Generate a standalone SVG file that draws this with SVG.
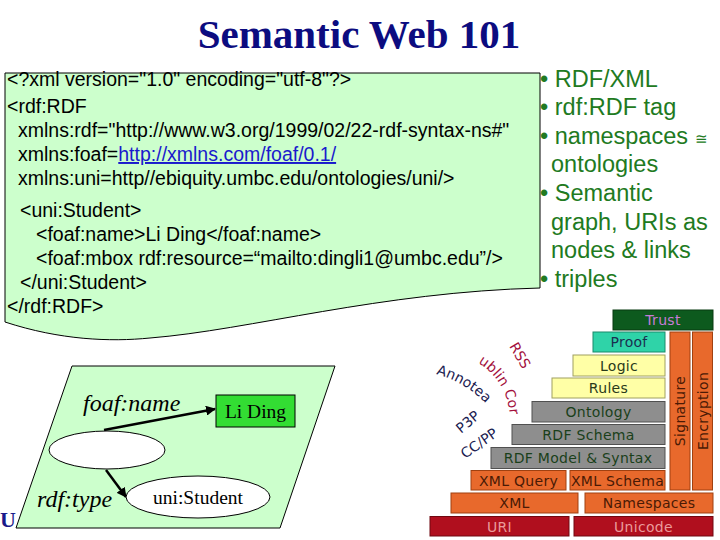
<svg xmlns="http://www.w3.org/2000/svg" width="720" height="540" viewBox="0 0 720 540">
<style>
.title{font-family:"Liberation Serif","Times New Roman",serif;font-weight:bold;font-size:41px;fill:#0c0c80}
.code{font-family:"Liberation Sans",Arial,sans-serif;font-size:19.5px;fill:#000}
.link{fill:#1a1acc;text-decoration:underline}
.bul{font-family:"Liberation Sans",Arial,sans-serif;font-size:23.5px;fill:#217a21}
.lay{font-family:"DejaVu Sans",Verdana,sans-serif;font-size:14px;letter-spacing:0.3px;text-anchor:middle}
.side{font-family:"DejaVu Sans",Verdana,sans-serif;font-size:14px}
.it{font-family:"Liberation Serif","Times New Roman",serif;font-style:italic;font-size:24px;fill:#000}
.rm{font-family:"Liberation Serif","Times New Roman",serif;font-size:19.5px;fill:#000;text-anchor:middle}
.node{stroke:#000;stroke-width:1}
.edge{stroke:#000;stroke-width:2.5;fill:none;marker-end:url(#ah)}
</style>
<defs>
<marker id="ah" viewBox="0 0 10 10" refX="9" refY="5" markerWidth="4" markerHeight="4" orient="auto" markerUnits="strokeWidth">
<path d="M0,0 L10,5 L0,10 Z" fill="#000"/>
</marker>
<path id="arcAnn" d="M436,374 A110,110 0 0 1 492,410"/>
<path id="arcDub" d="M478,363 A64,64 0 0 1 509,428"/>
</defs>
<rect width="720" height="540" fill="#fff"/>
<text class="title" x="359" y="48" text-anchor="middle">Semantic Web 101</text>

<g id="code-box">
<path d="M5,73 H540 V288 C380,292 250,330 150,338 C110,342 60,340 5,322 Z" fill="#ccffcc" stroke="#000" stroke-width="1"/>
<text class="code" x="7" y="86">&lt;?xml version="1.0" encoding="utf-8"?&gt;</text>
<text class="code" x="7" y="113">&lt;rdf:RDF</text>
<text class="code" x="18" y="137">xmlns:rdf="http://www.w3.org/1999/02/22-rdf-syntax-ns#"</text>
<text class="code" x="18" y="161">xmlns:foaf=<tspan class="link">http://xmlns.com/foaf/0.1/</tspan></text>
<text class="code" x="18" y="185">xmlns:uni=http//ebiquity.umbc.edu/ontologies/uni/&gt;</text>
<text class="code" x="20" y="217">&lt;uni:Student&gt;</text>
<text class="code" x="36" y="241">&lt;foaf:name&gt;Li Ding&lt;/foaf:name&gt;</text>
<text class="code" x="36" y="265">&lt;foaf:mbox rdf:resource=“mailto:dingli1@umbc.edu”/&gt;</text>
<text class="code" x="20" y="289">&lt;/uni:Student&gt;</text>
<text class="code" x="7" y="313">&lt;/rdf:RDF&gt;</text>
</g>

<g id="bullets">
<text class="bul" x="540" y="87">• RDF/XML</text>
<text class="bul" x="540" y="115">• rdf:RDF tag</text>
<text class="bul" x="540" y="144">• namespaces <tspan font-size="15">≅</tspan></text>
<text class="bul" x="551" y="172">ontologies</text>
<text class="bul" x="540" y="201">• Semantic</text>
<text class="bul" x="551" y="230">graph, URIs as</text>
<text class="bul" x="551" y="258">nodes &amp; links</text>
<text class="bul" x="540" y="287">• triples</text>
</g>

<text x="0" y="527" font-family="Liberation Serif,serif" font-weight="bold" font-size="22" fill="#1a1a8a">U</text>

<g id="graph-plane">
<path d="M72,366 H335 L280,528 H16 Z" fill="#ccffcc" stroke="#000" stroke-width="1"/>
</g>

<g id="connectors">
<path class="edge" d="M104,430 L215,409"/>
<path class="edge" d="M106,470 L126,497"/>
</g>

<g id="blank-node">
<ellipse class="node" cx="107" cy="450" rx="58" ry="19" fill="#fff"/>
</g>
<g id="li-ding">
<rect class="node" x="216" y="395" width="79" height="32" fill="#33dd33"/>
<text class="rm" x="255.5" y="418" font-size="20">Li Ding</text>
</g>
<g id="uni-student">
<ellipse class="node" cx="198" cy="497" rx="72" ry="21" fill="#fff"/>
<text class="rm" x="198" y="504">uni:Student</text>
</g>
<text class="it" x="83" y="411">foaf:name</text>
<text class="it" x="37" y="507">rdf:type</text>

<g id="layer-cake">
<rect x="613" y="310" width="100" height="20" fill="#0d5a1e" stroke="#083a10"/>
<text class="lay" x="663" y="325" fill="#c67cd6">Trust</text>
<rect x="593" y="332" width="72" height="20" fill="#2fd3a8" stroke="#1a8a6a"/>
<text class="lay" x="629" y="347" fill="#1a3050">Proof</text>
<rect x="573" y="355" width="92" height="21" fill="#ffffa6" stroke="#a0a060"/>
<text class="lay" x="619" y="371" fill="#2a3a1a">Logic</text>
<rect x="552" y="378" width="113" height="20" fill="#ffffa6" stroke="#a0a060"/>
<text class="lay" x="608.5" y="393" fill="#2a3a1a">Rules</text>
<rect x="532" y="401.5" width="133" height="20.5" fill="#8e8e8e" stroke="#505050"/>
<text class="lay" x="598.5" y="417" fill="#1a401a">Ontology</text>
<rect x="512" y="424.5" width="153" height="20" fill="#8e8e8e" stroke="#505050"/>
<text class="lay" x="588.5" y="440" fill="#1a401a">RDF Schema</text>
<rect x="491" y="447.5" width="174" height="21" fill="#8e8e8e" stroke="#505050"/>
<text class="lay" x="578" y="463" fill="#1a401a">RDF Model &amp; Syntax</text>
<rect x="471" y="470.5" width="95" height="19.5" fill="#e8692c" stroke="#a04010"/>
<text class="lay" x="518.5" y="486" fill="#4a1a05">XML Query</text>
<rect x="570" y="470.5" width="95" height="19.5" fill="#e8692c" stroke="#a04010"/>
<text class="lay" x="617.5" y="486" fill="#4a1a05">XML Schema</text>
<rect x="670" y="332" width="20" height="158" fill="#e8692c" stroke="#a04010"/>
<text class="lay" transform="translate(685,411) rotate(-90)" x="0" y="0" fill="#4a1a05">Signature</text>
<rect x="692.5" y="332" width="20" height="158" fill="#e8692c" stroke="#a04010"/>
<text class="lay" transform="translate(707.5,411) rotate(-90)" x="0" y="0" fill="#4a1a05">Encryption</text>
<rect x="451" y="493" width="127" height="20" fill="#e8692c" stroke="#a04010"/>
<text class="lay" x="514.5" y="508" fill="#4a1a05">XML</text>
<rect x="585" y="493" width="128" height="20" fill="#e8692c" stroke="#a04010"/>
<text class="lay" x="649" y="508" fill="#4a1a05">Namespaces</text>
<rect x="430" y="516.5" width="139" height="19.5" fill="#b00f1e" stroke="#700810"/>
<text class="lay" x="499.5" y="531.5" fill="#eb9a9a">URI</text>
<rect x="574" y="516.5" width="139" height="19.5" fill="#b00f1e" stroke="#700810"/>
<text class="lay" x="643.5" y="531.5" fill="#eb9a9a">Unicode</text>
</g>

<g id="side-labels">
<text class="side" fill="#a3103c" transform="translate(509,346) rotate(60)">RSS</text>
<text class="side" fill="#a3103c"><textPath href="#arcDub">ublin Cor</textPath></text>
<text class="side" fill="#1a2050"><textPath href="#arcAnn">Annotea</textPath></text>
<text class="side" fill="#1a2050" transform="translate(461,434) rotate(-40)">P3P</text>
<text class="side" fill="#1a2050" transform="translate(465,459) rotate(-35)">CC/PP</text>
</g>
</svg>
